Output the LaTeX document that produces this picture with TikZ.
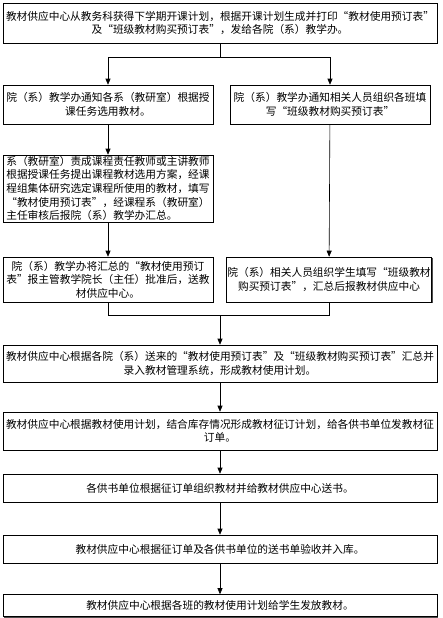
\documentclass[tikz,border=0pt]{standalone}
\usepackage{fontspec}
\setmainfont{Noto Sans CJK SC}
\usepackage{tikz}
\usetikzlibrary{arrows.meta,positioning,calc,shadows}

\begin{document}
\begin{tikzpicture}[
    x=1pt, y=1pt,
    stepbox/.style={
        draw=black,
        fill=white,
        line width=0.6pt,
        inner sep=1pt,
        align=center,
        font=\fontsize{10.7}{13.6}\selectfont,
        drop shadow={shadow xshift=1pt,shadow yshift=-1pt,fill=black!70,opacity=1},
    },
    flowarrow/.style={
        -{Triangle[length=6pt,width=5pt]},
        line width=0.6pt,
    },
    flowline/.style={
        line width=0.6pt,
    },
]
\useasboundingbox (0,0) rectangle (443,-618);

% planning stage
\node[stepbox,minimum width=434,minimum height=40] (plan) at (220,-23) {%
    教材供应中心从教务科获得下学期开课计划，根据开课计划生成并打印“教材使用预订表”\\
    及“班级教材购买预订表”，发给各院（系）教学办。};

% left branch
\node[stepbox,minimum width=210,minimum height=39] (notify) at (108,-104.5) {%
    院（系）教学办通知各系（教研室）根据授\\
    课任务选用教材。};
\node[stepbox,minimum width=210,minimum height=67,align=left] (select) at (108,-188.5) {%
    系（教研室）责成课程责任教师或主讲教师\\
    根据授课任务提出课程教材选用方案，经课\\
    程组集体研究选定课程所使用的教材，填写\\
    “教材使用预订表”，经课程系（教研室）\\
    主任审核后报院（系）教学办汇总。};
\node[stepbox,minimum width=210,minimum height=45] (approve) at (108,-279.5) {%
    院（系）教学办将汇总的“教材使用预订\\
    表”报主管教学院长（主任）批准后，送教\\
    材供应中心。};

% right branch
\node[stepbox,minimum width=200,minimum height=39] (classnotify) at (330,-104.5) {%
    院（系）教学办通知相关人员组织各班填\\
    写“班级教材购买预订表”};
\node[stepbox,minimum width=202,minimum height=45] (classfill) at (329,-279.5) {%
    院（系）相关人员组织学生填写“班级教材\\
    购买预订表”，汇总后报教材供应中心};

% supply stage
\node[stepbox,minimum width=434,minimum height=37] (usage) at (220,-363.5) {%
    教材供应中心根据各院（系）送来的“教材使用预订表”及“班级教材购买预订表”汇总并\\
    录入教材管理系统，形成教材使用计划。};
\node[stepbox,minimum width=434,minimum height=38] (order) at (220,-431) {%
    教材供应中心根据教材使用计划，结合库存情况形成教材征订计划，给各供书单位发教材征\\
    订单。};
\node[stepbox,minimum width=434,minimum height=28] (deliver) at (220,-488) {%
    各供书单位根据征订单组织教材并给教材供应中心送书。};
\node[stepbox,minimum width=434,minimum height=28] (stock) at (220,-549) {%
    教材供应中心根据征订单及各供书单位的送书单验收并入库。};
\node[stepbox,minimum width=434,minimum height=22] (issue) at (220,-605.5) {%
    教材供应中心根据各班的教材使用计划给学生发放教材。};

% split
\coordinate (split) at (220,-57);
\draw[flowline] (plan.south) -- (split);
\draw[flowarrow] (split) -| (notify.north);
\draw[flowarrow] (split) -| (classnotify.north);

\draw[flowarrow] (notify) -- (select);
\draw[flowarrow] (select) -- (approve);
\draw[flowarrow] (classnotify) -- (classfill);

% merge
\coordinate (merge) at (220,-315);
\draw[flowline] (approve.south) |- (merge);
\draw[flowline] (classfill.south) |- (merge);
\draw[flowarrow] (merge) -- (usage.north);

\draw[flowarrow] (usage) -- (order);
\draw[flowarrow] (order) -- (deliver);
\draw[flowarrow] (deliver) -- (stock);
\draw[flowarrow] (stock) -- (issue);
\end{tikzpicture}
\end{document}
